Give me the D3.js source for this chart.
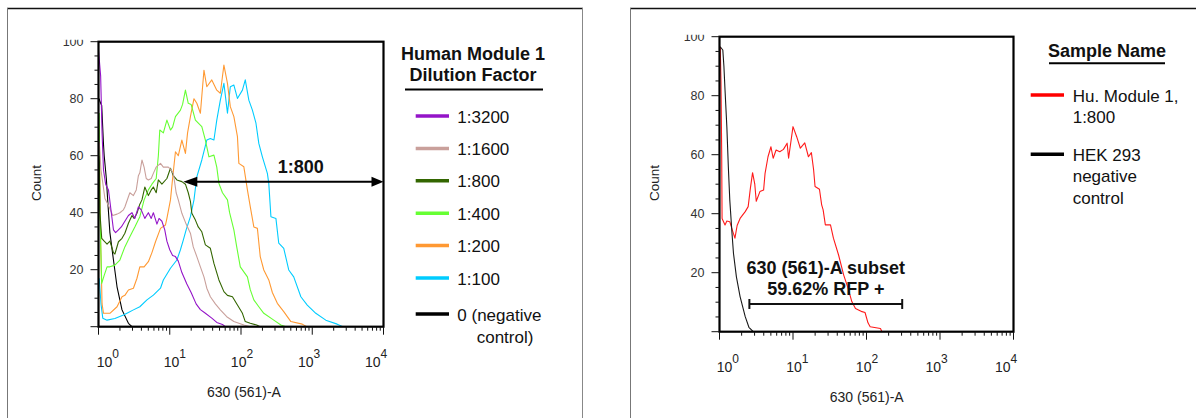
<!DOCTYPE html>
<html><head><meta charset="utf-8">
<script src="https://cdn.jsdelivr.net/npm/d3@7"></script>
<style>
body{margin:0;background:#fff}
svg{display:block}
text{font-family:"Liberation Sans",Arial,Helvetica,sans-serif;fill:#111}
</style>
</head><body>
<svg id="c" width="1196" height="418"></svg>
<script>
// ---------- DATA ----------
// x values are log10(intensity) of "630 (561)-A", y values are Count
const yTickValues = [0, 20, 40, 60, 80, 100];
const yMinorStep = 5;
const xDecades = [0, 1, 2, 3, 4];

const leftLegendTitle = ["Human Module 1", "Dilution Factor"];
const leftCategories = ["1:3200", "1:1600", "1:800", "1:400", "1:200", "1:100", "0 (negative|control)"];
const leftColors = ["#9414c8", "#c9a09b", "#336600", "#66ff33", "#ff9933", "#00ccff", "#000000"];

const s3200 = [[0,97],[0.03,88],[0.05,68],[0.07,55],[0.1,50],[0.14,48],[0.18,40],[0.21,34],[0.24,33],[0.28,34],[0.32,35],[0.37,37],[0.42,39],[0.47,40],[0.51,38],[0.56,42],[0.6,41],[0.65,38],[0.7,40],[0.74,38],[0.77,40],[0.82,36],[0.85,38],[0.89,37],[0.93,34],[0.96,30],[1.0,27],[1.04,25],[1.08,24.6],[1.12,23],[1.17,19],[1.24,15],[1.3,12],[1.37,8],[1.43,6],[1.5,4.7],[1.59,3],[1.66,1.5],[1.74,0.8],[1.78,0]];
const s1600 = [[0.01,65],[0.035,55],[0.09,45],[0.15,42],[0.2,39],[0.26,39.5],[0.3,40],[0.35,41],[0.37,42],[0.42,45.6],[0.44,47],[0.49,46],[0.53,48],[0.56,53],[0.58,54],[0.61,58.5],[0.64,56],[0.67,52],[0.7,51.5],[0.74,52],[0.77,53.8],[0.81,56],[0.87,57.3],[0.91,56],[0.94,56],[0.98,56],[1.02,55],[1.05,53.8],[1.09,47],[1.12,44.5],[1.17,39.8],[1.23,36],[1.29,32.8],[1.33,28],[1.38,24.6],[1.43,21],[1.48,17.5],[1.52,13.5],[1.57,10.5],[1.64,8],[1.71,5.9],[1.8,3.5],[1.9,1.8],[2.04,0.6],[2.13,0]];
const s800 = [[0.01,60],[0.02,40],[0.045,31],[0.08,30],[0.12,29],[0.16,30],[0.21,26],[0.23,25.5],[0.28,29.8],[0.33,31],[0.37,32.8],[0.42,36.3],[0.47,39],[0.5,38],[0.54,39.8],[0.58,43],[0.61,44.5],[0.65,49],[0.7,46],[0.74,48],[0.77,49],[0.81,47],[0.84,51.5],[0.89,50],[0.96,52],[1.01,55.6],[1.05,53],[1.1,51.5],[1.17,50.9],[1.22,50],[1.26,47],[1.29,44],[1.31,39.8],[1.36,37.4],[1.4,35],[1.45,33.3],[1.5,28.7],[1.57,27.5],[1.62,22.2],[1.69,16.4],[1.76,12.3],[1.81,11],[1.88,10.5],[1.95,7.6],[2.02,4.7],[2.06,1.8],[2.13,1.2],[2.22,0.6],[2.27,0]];
const s400 = [[0.01,75],[0.02,40],[0.045,15.2],[0.08,18],[0.12,21],[0.16,21],[0.23,21.6],[0.3,23.4],[0.37,28],[0.44,31.6],[0.51,35],[0.58,38.6],[0.64,44.5],[0.7,48],[0.75,50],[0.81,52],[0.84,60],[0.86,69],[0.91,68],[0.96,72.5],[1.01,69],[1.04,70],[1.08,73.7],[1.15,76],[1.18,78],[1.22,83],[1.26,78.4],[1.3,78],[1.36,72.5],[1.45,70.2],[1.5,65.5],[1.55,59.6],[1.62,60.2],[1.66,56],[1.69,50.3],[1.74,47],[1.81,44.5],[1.84,40],[1.9,34],[1.94,28],[1.99,21],[2.09,17.5],[2.13,13],[2.18,9.4],[2.25,7],[2.32,4.7],[2.46,2.3],[2.56,0.6],[2.63,0]];
const s200 = [[0.01,71],[0.03,30],[0.05,8],[0.07,4.7],[0.16,4.7],[0.26,7],[0.33,10.5],[0.37,11],[0.42,12.9],[0.49,13.5],[0.54,17],[0.58,21],[0.64,21],[0.7,22.8],[0.75,26],[0.8,29.8],[0.87,34.5],[0.94,35.7],[0.96,38],[1.01,44.5],[1.04,52],[1.08,61.4],[1.12,60],[1.17,65.5],[1.22,60.8],[1.25,68],[1.29,73.7],[1.34,80],[1.38,78.4],[1.43,74.9],[1.48,90],[1.52,84.2],[1.59,86.6],[1.66,83],[1.71,81.9],[1.76,91.8],[1.81,85.4],[1.85,77.2],[1.9,73.7],[1.95,66.7],[1.97,57.3],[2.04,56.1],[2.09,48],[2.13,42.1],[2.18,35],[2.23,34.5],[2.27,24.6],[2.32,19.9],[2.39,16.4],[2.44,12],[2.51,8.2],[2.6,5.3],[2.7,1.8],[2.86,0.9],[2.92,0]];
const s100 = [[0.01,17],[0.035,8],[0.06,3],[0.12,2.3],[0.23,2.9],[0.35,4.1],[0.42,5],[0.49,5.9],[0.58,7],[0.68,9.4],[0.77,11.1],[0.87,13.5],[0.91,16.4],[1.01,20.5],[1.1,23.4],[1.15,27],[1.19,30.4],[1.23,34],[1.29,38.6],[1.34,44.5],[1.38,52.6],[1.45,58.5],[1.52,65.5],[1.57,66],[1.62,65.5],[1.66,72.5],[1.71,79.5],[1.76,85.4],[1.81,74.9],[1.85,84.2],[1.9,84.8],[1.95,80.1],[2.02,83],[2.06,86.6],[2.11,79.5],[2.16,76],[2.21,71.4],[2.25,64.3],[2.3,59.6],[2.37,53.8],[2.39,50.3],[2.42,38.6],[2.49,38],[2.53,29.3],[2.6,27.5],[2.67,19.9],[2.74,17.5],[2.84,10.5],[2.93,7.6],[3.05,4.7],[3.19,2.3],[3.35,0.9],[3.43,0]];
const sNegL = [[0.01,80],[0.02,79],[0.045,77.6],[0.07,64],[0.08,60],[0.11,52],[0.13,44],[0.16,33],[0.21,23.4],[0.26,14],[0.33,5.9],[0.42,1.2],[0.47,0]];
const leftSeries = [s3200, s1600, s800, s400, s200, s100, sNegL];

const arrowFrom = 1.19, arrowTo = 4, arrowCount = 50.9, arrowLabel = "1:800", arrowLabelAt = 2.84;

const rightLegendTitle = "Sample Name";
const rightCategories = ["Hu. Module 1,|1:800", "HEK 293|negative|control"];
const rightColors = ["#ff1a1a", "#1a1a1a"];
const sHu = [[0.01,96.6],[0.02,85],[0.03,60],[0.035,38.4],[0.075,36.2],[0.1,37.5],[0.14,37.3],[0.18,34],[0.21,31.7],[0.24,36],[0.28,38.4],[0.35,40.7],[0.39,42.4],[0.42,48.6],[0.45,53.9],[0.48,50],[0.5,44.2],[0.55,47.5],[0.6,48],[0.62,53.7],[0.66,59.3],[0.7,62.7],[0.73,58.8],[0.77,61.6],[0.82,61],[0.87,61.8],[0.92,63.9],[0.94,58.8],[1.0,69.5],[1.05,66.1],[1.1,62.2],[1.16,64],[1.21,59.3],[1.25,60.7],[1.28,55],[1.3,49.2],[1.36,48.3],[1.39,43],[1.41,41.3],[1.44,36.2],[1.51,36.2],[1.55,31.7],[1.62,26],[1.69,19.2],[1.75,14.7],[1.8,10.2],[1.85,7.9],[1.94,6.8],[1.98,6.5],[2.02,3],[2.05,1.7],[2.19,1.1],[2.21,0]];
const sNegR = [[0.01,96.6],[0.045,95.5],[0.06,90],[0.075,82],[0.1,69.5],[0.12,56],[0.14,44.6],[0.17,33.4],[0.19,26.6],[0.23,18.6],[0.28,11.9],[0.35,5.1],[0.4,1.5],[0.46,0]];
const rightSeries = [sHu, sNegR];

const gateLo = 2.55, gateHi = 306, gateCount = 9.4;
const gateLabel = ["630 (561)-A subset", "59.62% RFP +"];
const xTitle = "630 (561)-A", yTitle = "Count";

// ---------- DRAW ----------
const svg = d3.select("#c");
const FONT = '"Liberation Sans",Arial,sans-serif';

function panel(o) {
  const g = svg.append("g");
  const x = d3.scaleLog().domain([1, 1e4]).range([o.x0, o.x1]);
  const y = d3.scaleLinear().domain([0, 100]).range([o.y1, o.y0]);
  const lab = d3.scaleLinear().domain([0, 4]).range(o.labRange);
  const cid = "clip" + o.id;
  const defs = svg.append("defs");
  defs.append("clipPath").attr("id", cid).append("rect")
    .attr("x", o.x0).attr("y", o.y0).attr("width", o.x1 - o.x0).attr("height", o.y1 - o.y0);
  defs.append("clipPath").attr("id", cid + "lab").append("rect")
    .attr("x", 0).attr("y", o.y0 - 2).attr("width", 1196).attr("height", 418);

  // curves
  const line = d3.line().x(d => x(Math.pow(10, d[0]))).y(d => y(d[1]));
  const cg = g.append("g").attr("clip-path", `url(#${cid})`);
  o.series.forEach((s, i) => {
    cg.append("path").datum(s).attr("d", line).attr("fill", "none")
      .attr("stroke", o.colors[i]).attr("stroke-width", 1.1).attr("stroke-linejoin", "round");
  });

  // frame
  g.append("rect").attr("x", o.x0).attr("y", o.y0).attr("width", o.x1 - o.x0).attr("height", o.y1 - o.y0)
    .attr("fill", "none").attr("stroke", "#000").attr("stroke-width", 2.2);

  // y axis
  const yMinor = d3.range(0, 100.1, yMinorStep);
  g.append("g").selectAll("line").data(yMinor).join("line")
    .attr("x1", d => o.x0 - (d % 20 === 0 ? 8 : 4)).attr("x2", o.x0)
    .attr("y1", d => y(d)).attr("y2", d => y(d)).attr("stroke", "#111").attr("stroke-width", 1);
  g.append("g").attr("clip-path", `url(#${cid}lab)`).selectAll("text")
    .data(yTickValues.filter(v => v > 0)).join("text")
    .attr("x", o.x0 - 15).attr("y", d => y(d) + 4.3).attr("text-anchor", "end")
    .attr("font-size", 12.5).style("fill", "#333").text(d => d);

  // x axis ticks
  const xt = [];
  for (let e = 0; e < 4; e++) for (let m = 1; m < 10; m++) xt.push({v: m * Math.pow(10, e), major: m === 1});
  xt.push({v: 1e4, major: true});
  g.append("g").selectAll("line").data(xt).join("line")
    .attr("x1", d => x(d.v)).attr("x2", d => x(d.v))
    .attr("y1", o.y1).attr("y2", d => o.y1 + (d.major ? 8 : 4))
    .attr("stroke", "#111").attr("stroke-width", 1);
  const xl = g.append("g").selectAll("text").data(xDecades).join("text")
    .attr("x", d => lab(d)).attr("y", o.y1 + 40.5).attr("font-size", 14).style("fill", "#222");
  xl.append("tspan").text("10");
  xl.append("tspan").attr("dy", -9).attr("font-size", 12).text(d => d);

  // titles
  g.append("text").attr("x", o.xTitleX).attr("y", o.y1 + 70).attr("text-anchor", "middle")
    .attr("font-size", 14).style("fill", "#222").text(xTitle);
  g.append("text").attr("transform", `translate(${o.yTitleX},183) rotate(-90)`)
    .attr("text-anchor", "middle").attr("font-size", 13.5).style("fill", "#222").text(yTitle);
  return {x, y, g};
}

// outer boxes
svg.append("line").attr("x1", 7).attr("x2", 583).attr("y1", 8.5).attr("y2", 8.5).attr("stroke", "#111").attr("stroke-width", 1.5);
svg.append("line").attr("x1", 7.5).attr("x2", 7.5).attr("y1", 8).attr("y2", 418).attr("stroke", "#777");
svg.append("line").attr("x1", 582.5).attr("x2", 582.5).attr("y1", 8).attr("y2", 418).attr("stroke", "#888");
svg.append("line").attr("x1", 630).attr("x2", 1196).attr("y1", 8.5).attr("y2", 8.5).attr("stroke", "#111").attr("stroke-width", 1.5);
svg.append("line").attr("x1", 630.5).attr("x2", 630.5).attr("y1", 8).attr("y2", 418).attr("stroke", "#777");

// LEFT PANEL
const L = panel({id: "L", x0: 98.5, x1: 383.5, y0: 41.7, y1: 326.7, labRange: [96.7, 365],
  xTitleX: 244, yTitleX: 41, series: leftSeries.slice().reverse(), colors: leftColors.slice().reverse()});

// arrow
{
  const ya = L.y(arrowCount), xa = L.x(Math.pow(10, arrowFrom)), xb = L.x(Math.pow(10, arrowTo));
  L.g.append("line").attr("x1", xa + 8).attr("x2", xb - 8).attr("y1", ya).attr("y2", ya)
    .attr("stroke", "#000").attr("stroke-width", 2);
  L.g.append("path").attr("d", `M${xa},${ya}L${xa + 14},${ya - 5}L${xa + 14},${ya + 5}Z`).attr("fill", "#000");
  L.g.append("path").attr("d", `M${xb},${ya}L${xb - 12},${ya - 5}L${xb - 12},${ya + 5}Z`).attr("fill", "#000");
  L.g.append("text").attr("x", L.x(Math.pow(10, arrowLabelAt))).attr("y", ya - 8.5)
    .attr("text-anchor", "middle").attr("font-size", 18).attr("font-weight", "bold").text(arrowLabel);
}

// left legend
{
  const lg = svg.append("g");
  leftLegendTitle.forEach((t, i) => lg.append("text").attr("x", 473).attr("y", 60 + i * 21)
    .attr("text-anchor", "middle").attr("font-size", 18).attr("font-weight", "bold").text(t));
  lg.append("line").attr("x1", 405).attr("x2", 543).attr("y1", 89.5).attr("y2", 89.5)
    .attr("stroke", "#000").attr("stroke-width", 2);
  leftCategories.forEach((c, i) => {
    const yy = 116 + i * 32.4 + (i === 6 ? 3.6 : 0);
    lg.append("line").attr("x1", 415.7).attr("x2", 449).attr("y1", yy).attr("y2", yy)
      .attr("stroke", leftColors[i]).attr("stroke-width", 3.5);
    c.split("|").forEach((part, k) => lg.append("text").attr("x", k === 0 ? 457.3 : 476.7)
      .attr("y", yy + 6.5 + k * 22).attr("font-size", 17).text(part));
  });
}

// RIGHT PANEL
const R = panel({id: "R", x0: 719.5, x1: 1013.5, y0: 36.7, y1: 331.7, labRange: [716.7, 995],
  xTitleX: 866.7, yTitleX: 659, series: rightSeries, colors: rightColors});

// gate
{
  const yg = R.y(gateCount), xa = R.x(gateLo), xb = R.x(gateHi);
  R.g.append("line").attr("x1", xa).attr("x2", xb).attr("y1", yg).attr("y2", yg).attr("stroke", "#111").attr("stroke-width", 2);
  [xa, xb].forEach(xx => R.g.append("line").attr("x1", xx).attr("x2", xx).attr("y1", yg - 5).attr("y2", yg + 5)
    .attr("stroke", "#111").attr("stroke-width", 2));
  const xc = (xa + xb) / 2;
  gateLabel.forEach((t, i) => R.g.append("text").attr("x", xc).attr("y", yg - 30 + i * 21)
    .attr("text-anchor", "middle").attr("font-size", 18).attr("font-weight", "bold").text(t));
}

// right legend
{
  const lg = svg.append("g");
  lg.append("text").attr("x", 1107).attr("y", 56.5).attr("text-anchor", "middle")
    .attr("font-size", 18).attr("font-weight", "bold").text(rightLegendTitle);
  lg.append("line").attr("x1", 1049).attr("x2", 1165).attr("y1", 63.3).attr("y2", 63.3)
    .attr("stroke", "#000").attr("stroke-width", 2);
  const ys = [95, 154.3];
  rightCategories.forEach((c, i) => {
    lg.append("line").attr("x1", 1030.7).attr("x2", 1064).attr("y1", ys[i]).attr("y2", ys[i])
      .attr("stroke", i === 0 ? "#ff0000" : "#000").attr("stroke-width", 3.5);
    c.split("|").forEach((part, k) => lg.append("text").attr("x", 1072.7)
      .attr("y", ys[i] + 6.7 + k * 21.3).attr("font-size", 17).text(part));
  });
}
</script>
</body></html>
